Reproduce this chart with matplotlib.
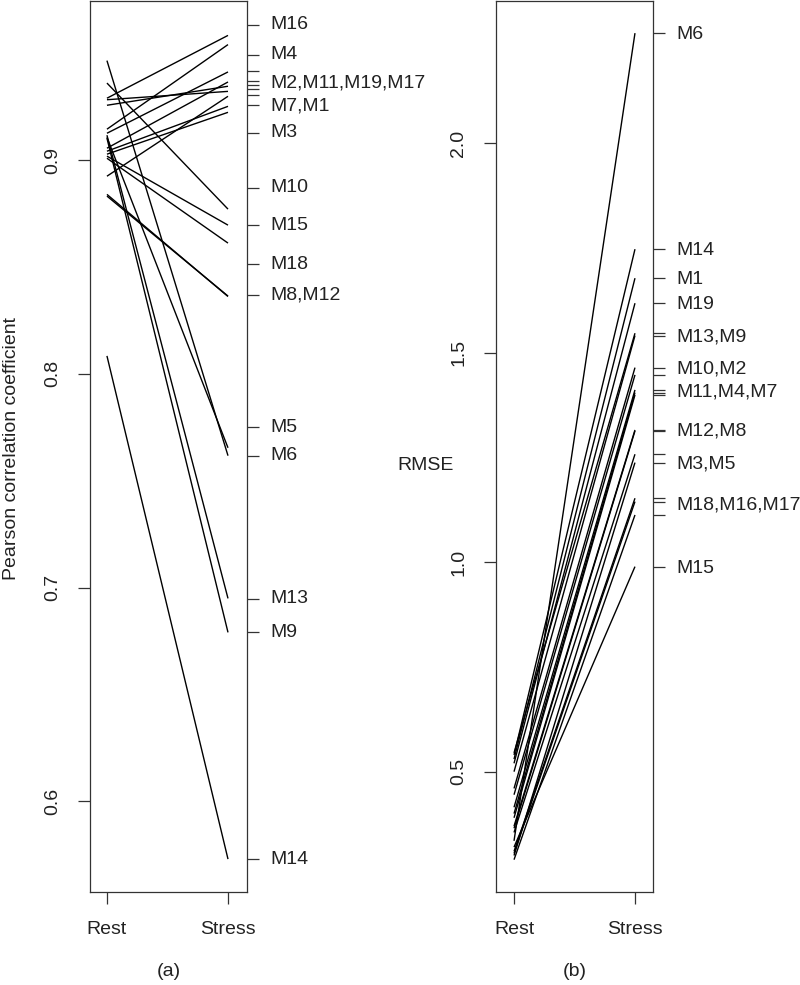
import matplotlib
matplotlib.use("Agg")
import matplotlib.pyplot as plt
import matplotlib.transforms as mtransforms

plt.rcParams['font.family'] = ['Liberation Sans', 'DejaVu Sans']

conditions = ["Rest", "Stress"]

# ---- Panel (a): Pearson correlation coefficient ----
models_a = ["M16", "M4", "M2", "M11", "M19", "M17", "M7", "M1", "M3", "M10",
            "M15", "M18", "M8", "M12", "M5", "M6", "M13", "M9", "M14"]
rest_a = [0.9290, 0.9145, 0.9126, 0.9056, 0.9257, 0.9283, 0.8925, 0.9042, 0.9028, 0.9361,
          0.9019, 0.9009, 0.8832, 0.8840, 0.9107, 0.9466, 0.9117, 0.9103, 0.8084]
stress_a = [0.9584, 0.9541, 0.9413, 0.9366, 0.9346, 0.9322, 0.9299, 0.9252, 0.9224, 0.8771,
            0.8696, 0.8612, 0.8364, 0.8362, 0.7654, 0.7617, 0.6949, 0.6790, 0.5729]
ticks_a = [0.9634, 0.9494, 0.9416, 0.9369, 0.9350, 0.9335, 0.9304, 0.9260, 0.9128, 0.8871,
           0.8696, 0.8513, 0.8368, 0.7749, 0.7617, 0.6947, 0.6791, 0.5728]
label_text_a = ["M16", "M4", "M2,M11,M19,M17", "M7,M1", "M3", "M10", "M15", "M18",
                "M8,M12", "M5", "M6", "M13", "M9", "M14"]
label_pos_a = [0.9634, 0.9494, 0.9360, 0.9254, 0.9128, 0.8871, 0.8696, 0.8513,
               0.8368, 0.7749, 0.7617, 0.6947, 0.6791, 0.5728]
yticks_a = [0.6, 0.7, 0.8, 0.9]

# ---- Panel (b): RMSE ----
models_b = ["M6", "M14", "M1", "M19", "M13", "M9", "M10", "M2", "M11", "M4",
            "M7", "M12", "M8", "M3", "M5", "M18", "M16", "M17", "M15"]
rest_b = [0.335, 0.540, 0.530, 0.520, 0.545, 0.500, 0.460, 0.445, 0.415, 0.400,
          0.390, 0.370, 0.365, 0.355, 0.300, 0.310, 0.305, 0.290, 0.320]
stress_b = [2.2623, 1.7468, 1.6776, 1.6179, 1.5463, 1.5406, 1.4642, 1.4468, 1.4110, 1.4045,
            1.3990, 1.3155, 1.3131, 1.2575, 1.2375, 1.1525, 1.1444, 1.1126, 0.9893]
label_text_b = ["M6", "M14", "M1", "M19", "M13,M9", "M10,M2", "M11,M4,M7", "M12,M8",
                "M3,M5", "M18,M16,M17", "M15"]
label_pos_b = [2.2583, 1.7434, 1.6735, 1.6138, 1.5368, 1.4611, 1.4055, 1.3131,
               1.2344, 1.1365, 0.9854]
yticks_b = [0.5, 1.0, 1.5, 2.0]

W, H = 800, 985
fig = plt.figure(figsize=(W / 100, H / 100), dpi=100)

TXT = '#222222'
FS = 14.0
TL = 8.6  # tick length in points


def make_panel(left_px, right_px, top_px, bot_px, xlim, ylim, rest, stress,
               yticks, rticks, label_text, label_pos, label_x_px, letter):
    ax = fig.add_axes([left_px / W, 1 - bot_px / H, (right_px - left_px) / W,
                       (bot_px - top_px) / H])
    for r, s in zip(rest, stress):
        ax.plot([1, 2], [r, s], color='black', lw=1.0, solid_capstyle='butt')
    ax.set_xlim(*xlim)
    ax.set_ylim(*ylim)
    ax.set_xticks([1, 2])
    ax.set_xticklabels(conditions, fontsize=FS, color=TXT)
    ax.set_yticks(yticks)
    ax.set_yticklabels([f"{v:.1f}" for v in yticks], fontsize=FS, color=TXT,
                       rotation=90, va='center')
    ax.tick_params(axis='x', length=TL, width=0.9, pad=12, color='#333333')
    ax.tick_params(axis='y', length=TL, width=0.9, pad=12, color='#333333')
    for sp in ax.spines.values():
        sp.set_linewidth(0.9)
        sp.set_color('#333333')
    axr = ax.twinx()
    axr.set_ylim(*ylim)
    axr.set_yticks(rticks)
    axr.set_yticklabels([])
    axr.tick_params(axis='y', length=TL, width=0.9, color='#333333')
    for sp in axr.spines.values():
        sp.set_visible(False)
    trans = mtransforms.blended_transform_factory(ax.transAxes, ax.transData)
    lx = (label_x_px - left_px) / (right_px - left_px)
    for t, p in zip(label_text, label_pos):
        ax.text(lx, p, t, transform=trans, fontsize=FS, color=TXT,
                ha='left', va='center', clip_on=False)
    fig.text(((left_px + right_px) / 2) / W, 1 - 971 / H, letter, fontsize=FS,
             color=TXT, ha='center', va='center')
    return ax


make_panel(90, 247, 1, 892, (0.86, 2.157), (0.5575, 0.9745), rest_a, stress_a,
           yticks_a, ticks_a, label_text_a, label_pos_a, 270, "(a)")
make_panel(496, 653, 1, 892, (0.851, 2.149), (0.2129, 2.339), rest_b, stress_b,
           yticks_b, stress_b, label_text_b, label_pos_b, 676, "(b)")

fig.text(12 / W, 1 - 449 / H, "Pearson correlation coefficient", fontsize=FS,
         color=TXT, rotation=90, ha='center', va='center')
fig.text(426 / W, 1 - 465 / H, "RMSE", fontsize=FS, color=TXT,
         ha='center', va='center')

fig.savefig("out.png", dpi=100)
